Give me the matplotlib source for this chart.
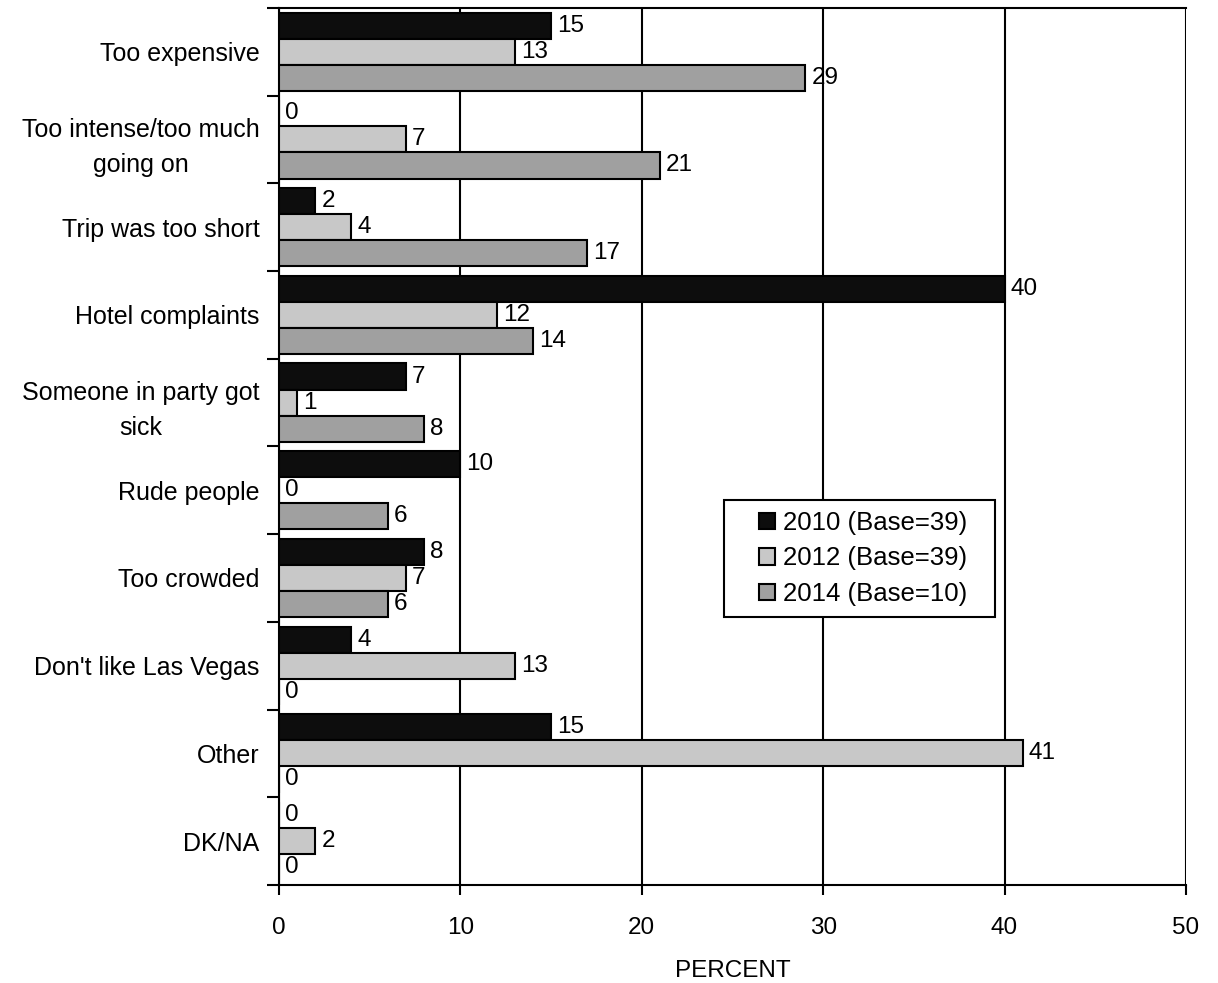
import numpy as np
import matplotlib
matplotlib.use("Agg")
import matplotlib.pyplot as plt
from matplotlib.patches import Rectangle
from matplotlib.ticker import FixedLocator

plt.rcParams['font.family'] = ['Liberation Sans', 'DejaVu Sans']

categories = ['Too expensive', 'Too intense/too much\ngoing on', 'Trip was too short',
              'Hotel complaints', 'Someone in party got\nsick', 'Rude people',
              'Too crowded', "Don't like Las Vegas", 'Other', 'DK/NA']
v2010 = [15, 0, 2, 40, 7, 10, 8, 4, 15, 0]
v2012 = [13, 7, 4, 12, 1, 0, 7, 13, 41, 2]
v2014 = [29, 21, 17, 14, 8, 6, 6, 0, 0, 0]
series_labels = ['2010 (Base=39)', '2012 (Base=39)', '2014 (Base=10)']
colors = ['#0d0d0d', '#c8c8c8', '#a0a0a0']

fs = 18
fig = plt.figure(figsize=(12.18, 9.83), dpi=100)
ax = fig.add_axes([0.229, 0.0997, 0.7447, 0.8923])

y = np.arange(len(categories))
h = 0.297
for k, (vals, lab, col) in enumerate(zip([v2010, v2012, v2014], series_labels, colors)):
    bars = ax.barh(y + (k - 1) * h, vals, height=h, color=col, edgecolor='black',
                   linewidth=1.5, label=lab, zorder=3)
    ax.bar_label(bars, padding=4.5, fontsize=17.5)

ax.set_xlim(0, 50)
ax.set_ylim(len(categories) - 0.5, -0.5)
ax.set_xticks(range(0, 51, 10))
ax.xaxis.grid(True, color='black', linewidth=1.5, zorder=0)

# ticks on category boundaries, labels at centres
ax.yaxis.set_major_locator(FixedLocator(np.arange(-0.5, len(categories), 1.0)))
ax.yaxis.set_major_formatter(plt.NullFormatter())
ax.yaxis.set_minor_locator(FixedLocator(y))
ax.set_yticklabels(categories, minor=True, fontsize=fs, multialignment='center',
                   linespacing=1.6)
ax.tick_params(axis='y', which='major', length=9, width=1.5, direction='out')
ax.tick_params(axis='y', which='minor', length=0, pad=14)
ax.tick_params(axis='x', length=7, width=1.5, direction='out', labelsize=17.5, pad=16)

for s in ['top', 'right']:
    ax.spines[s].set_visible(False)
for s in ['left', 'bottom']:
    ax.spines[s].set_linewidth(1.5)
ax.plot([0, 1], [1, 1], transform=ax.transAxes, color='black', linewidth=1.5, clip_on=False)

ax.set_xlabel('PERCENT', fontsize=17.5, labelpad=15)

# legend box
bx0, bx1, by0, by1 = 0.4906, 0.7894, 0.3056, 0.439
ax.add_patch(Rectangle((bx0, by0), bx1 - bx0, by1 - by0, transform=ax.transAxes,
                       facecolor='white', edgecolor='black', linewidth=1.5, zorder=5))
leg = ax.legend(loc='center', bbox_to_anchor=((bx0 + bx1) / 2 + 0.004, (by0 + by1) / 2),
                fontsize=18.5, frameon=False, handlelength=0.6, handleheight=0.6,
                handletextpad=0.32, labelspacing=0.45, borderpad=0, borderaxespad=0)
leg.set_zorder(6)

fig.savefig('out.png', dpi=100)
